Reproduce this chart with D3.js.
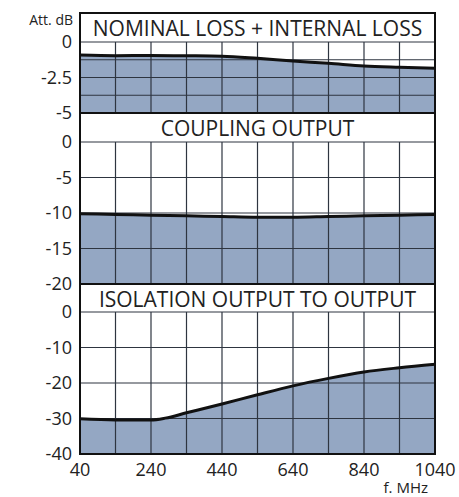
<!DOCTYPE html>
<html>
<head>
<meta charset="utf-8">
<script src="https://cdn.jsdelivr.net/npm/d3@7"></script>
<style>
  body { margin: 0; background: #fff; }
  text { font-family: "Open Sans", sans-serif; fill: #222; }
</style>
</head>
<body>
<div id="chart"></div>
<script>
// ---- data ----
var freqs = [40, 140, 240, 340, 440, 540, 640, 740, 840, 940, 1040];
var nominalLoss = [-0.92, -0.96, -0.95, -0.97, -1.0, -1.15, -1.34, -1.5, -1.69, -1.78, -1.85];
var couplingOut = [-10.1, -10.2, -10.3, -10.4, -10.5, -10.6, -10.6, -10.5, -10.4, -10.3, -10.2];
var isoFreqs = [40, 140, 240, 280, 340, 440, 540, 640, 740, 840, 940, 1040];
var isolation = [-30.1, -30.4, -30.4, -29.9, -28.4, -25.9, -23.3, -20.8, -18.7, -16.9, -15.7, -14.7];
var xTicks = [40, 240, 440, 640, 840, 1040];

var panels = [
  {title: "NOMINAL LOSS + INTERNAL LOSS", min: -5, step: 1.25, ticks: [0, -2.5, -5], xs: freqs, ys: nominalLoss},
  {title: "COUPLING OUTPUT", min: -20, step: 5, ticks: [0, -5, -10, -15, -20], xs: freqs, ys: couplingOut},
  {title: "ISOLATION OUTPUT TO OUTPUT", min: -40, step: 10, ticks: [0, -10, -20, -30, -40], xs: isoFreqs, ys: isolation}
];

// ---- layout ----
var W = 459, H = 497;
var left = 80, right = 435;
var layout = [
  {boxTop: 13, top: 42, bottom: 113},
  {boxTop: 113, top: 142, bottom: 284},
  {boxTop: 284, top: 312, bottom: 454}
];

var svg = d3.select("#chart").append("svg")
    .attr("width", W)
    .attr("height", H);

var x = d3.scaleLinear().domain([40, 1040]).range([left, right]);

panels.forEach(function(p, i) {
  var L = layout[i];
  var y = d3.scaleLinear().domain([0, p.min]).range([L.top, L.bottom]);
  var g = svg.append("g");

  // title box
  g.append("rect")
    .attr("x", left).attr("y", L.boxTop)
    .attr("width", right - left).attr("height", L.top - L.boxTop)
    .attr("fill", "#fff");
  g.append("text")
    .attr("x", (left + right) / 2)
    .attr("y", L.boxTop + 23)
    .attr("text-anchor", "middle")
    .style("font-size", "21px")
    .text(p.title);

  var pts = p.xs.map(function(f, j) { return [f, p.ys[j]]; });

  // fill under curve
  var area = d3.area()
    .x(function(d) { return x(d[0]); })
    .y0(y(p.min))
    .y1(function(d) { return y(d[1]); })
    .curve(d3.curveMonotoneX);
  g.append("path").datum(pts)
    .attr("d", area)
    .attr("fill", "#94a7c3");

  // grid
  var hVals = d3.range(0, p.min - 0.001, -p.step);
  g.selectAll(".hg").data(hVals).enter().append("line")
    .attr("x1", left).attr("x2", right)
    .attr("y1", function(d) { return y(d); })
    .attr("y2", function(d) { return y(d); })
    .attr("stroke", "#2e3540").attr("stroke-width", 1.2);
  g.selectAll(".vg").data(d3.range(40, 1041, 100)).enter().append("line")
    .attr("x1", function(d) { return x(d); })
    .attr("x2", function(d) { return x(d); })
    .attr("y1", L.top).attr("y2", L.bottom)
    .attr("stroke", "#2e3540").attr("stroke-width", 1.2);

  // curve
  var line = d3.line()
    .x(function(d) { return x(d[0]); })
    .y(function(d) { return y(d[1]); })
    .curve(d3.curveMonotoneX);
  g.append("path").datum(pts)
    .attr("d", line)
    .attr("fill", "none")
    .attr("stroke", "#111")
    .attr("stroke-width", 3);

  // y labels
  g.selectAll(".yl").data(p.ticks).enter().append("text")
    .attr("x", 72)
    .attr("y", function(d) { return y(d) + 6; })
    .attr("text-anchor", "end")
    .style("font-size", "18px")
    .text(function(d) { return d; });

  // separator line at panel top
  g.append("line")
    .attr("x1", left).attr("x2", right)
    .attr("y1", L.boxTop).attr("y2", L.boxTop)
    .attr("stroke", "#111").attr("stroke-width", 2);
});

// outer frame
svg.append("rect")
  .attr("x", left).attr("y", 13)
  .attr("width", right - left).attr("height", 454 - 13)
  .attr("fill", "none")
  .attr("stroke", "#111")
  .attr("stroke-width", 2);

// x axis labels
svg.selectAll(".xl").data(xTicks).enter().append("text")
  .attr("x", function(d) { return x(d); })
  .attr("y", 476)
  .attr("text-anchor", "middle")
  .style("font-size", "18px")
  .text(function(d) { return d; });

svg.append("text")
  .attr("x", 428).attr("y", 493)
  .attr("text-anchor", "end")
  .style("font-size", "15px")
  .text("f. MHz");

svg.append("text")
  .attr("x", 73).attr("y", 25)
  .attr("text-anchor", "end")
  .style("font-size", "14px")
  .text("Att. dB");
</script>
</body>
</html>
